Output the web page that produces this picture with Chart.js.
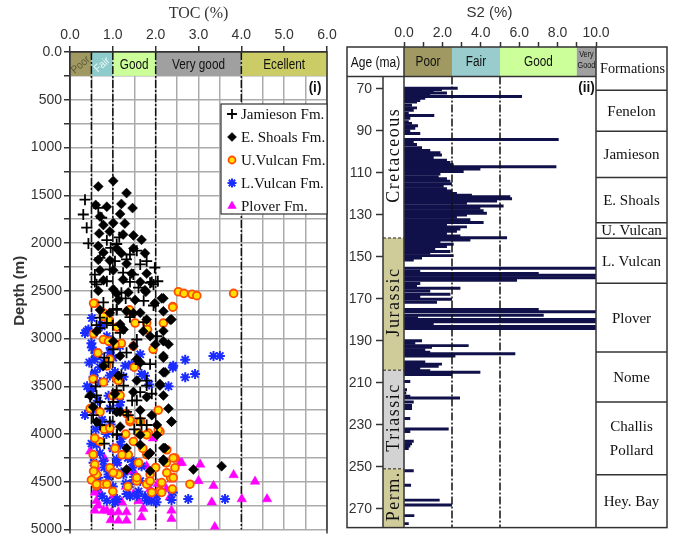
<!DOCTYPE html>
<html>
<head>
<meta charset="utf-8">
<script src="https://cdn.jsdelivr.net/npm/chart.js@4.4.1/dist/chart.umd.min.js"></script>
<style>
  body { margin: 0; background: #fff; }
  #wrap { position: relative; width: 674px; height: 540px; }
  #left { position: absolute; left: 0; top: 0; }
  #right { position: absolute; left: 340px; top: 0; }
</style>
</head>
<body>
<div id="wrap">
  <canvas id="left" width="340" height="540"></canvas>
  <canvas id="right" width="334" height="540"></canvas>
</div>
<script>
// ---- panel (i): TOC vs depth ----
const SERIES_NAMES = ['Jamieson Fm.', 'E. Shoals Fm.', 'U.Vulcan Fm.', 'L.Vulcan Fm.', 'Plover Fm.'];

// [TOC %, depth m]
const JAMIESON = [[0.35,1546],[0.31,1701],[0.39,1839],[0.43,2004],[0.66,1632],[0.74,1735],[0.86,1970],[1.09,2010],
  [0.70,2155],[1.05,2190],[1.32,2170],[1.56,2080],[1.64,2224],[1.79,2190],[1.98,2258],[0.93,2276],[0.58,2330],
  [0.62,2432],[0.86,2400],[1.24,2310],[1.48,2330],[1.60,2467],[1.87,2416],[1.95,2433],[1.72,2605],[1.95,2654],
  [0.78,2622],[1.09,2690],[1.40,2776],[1.72,2827],[1.15,1940],[1.40,2120],[0.95,2050],[1.20,2520],[0.70,2780],
  [1.30,2580],[2.05,2400],[0.62,2860],[1.00,2860],[0.70,2890],[1.17,2941],[1.56,3010],[2.03,2976],[1.01,3113],
  [1.32,3148],[1.64,3268],[0.80,3200],[1.79,3440],[1.09,3543],[1.64,3560],[1.91,3578],[0.70,3664],[0.93,3733],
  [0.54,3802],[1.32,3768],[1.64,3836],[0.70,3905],[0.93,3870],[1.79,3905],[1.20,3380],[0.60,3500],[1.45,3650],
  [1.10,4000],[0.80,4100],[1.50,3950],[0.58,2407],[1.40,2407],[1.91,2407],[1.09,2700],[0.86,2837],[1.87,3268],
  [1.79,3492],[1.25,3492],[0.62,3595],[0.90,3250],[0.47,3612],[1.01,3664],[1.56,3647],[1.36,3802],[1.67,3905],
  [1.09,4008]];
const E_SHOALS = [[1.01,1350],[0.66,1408],[1.32,1477],[1.20,1590],[0.60,1601],[0.86,1620],[1.46,1634],[1.17,1695],
  [0.70,1722],[1.01,1790],[0.78,1812],[1.28,1796],[0.68,1900],[0.93,1880],[1.24,1911],[1.48,1920],[1.67,1966],
  [0.66,2032],[1.09,2056],[1.48,2056],[0.78,2100],[1.20,2107],[1.75,2107],[0.66,2176],[0.93,2183],[1.32,2218],
  [0.70,2286],[1.01,2286],[1.44,2320],[1.79,2320],[0.78,2390],[1.24,2383],[1.64,2407],[0.66,2500],[1.01,2483],
  [1.36,2517],[1.77,2510],[2.18,2579],[1.98,2630],[1.52,2596],[1.13,2596],[0.70,2700],[0.93,2731],[1.32,2715],
  [1.64,2731],[2.18,2715],[2.37,2800],[1.79,2800],[1.17,2850],[2.18,2920],[0.62,2924],[1.71,2924],[2.18,3027],
  [2.30,3060],[1.01,3027],[1.48,3079],[1.17,3182],[2.18,3200],[0.78,3286],[1.64,3251],[2.18,3354],[1.13,3389],
  [1.56,3440],[2.10,3475],[0.47,3595],[1.05,3578],[1.48,3560],[1.79,3612],[2.18,3595],[2.30,3733],[0.54,3716],
  [1.09,3768],[1.64,3750],[1.91,3802],[2.37,3870],[2.03,3905],[0.62,3870],[1.17,3922],[1.64,4009],[2.03,4009],
  [1.64,4112],[1.87,4198],[2.18,4146],[2.18,4284],[1.32,4370],[1.87,4387],[2.88,4370],[3.54,4336],[1.75,2493],
  [2.14,2579],[2.34,2803],[2.18,3182],[2.22,3354],[1.87,2975],[1.48,2734],[1.09,2527],[1.25,2906],[1.99,3061],
  [2.10,3492],[1.56,3216],[2.37,3870],[1.83,4216],[2.22,4147],[2.18,4267],[1.32,4147],[1.17,3767]];
const U_VULCAN = [[2.53,2510],[2.66,2527],[2.85,2537],[2.96,2551],[3.82,2527],[2.40,2665],[2.18,2837],[0.58,2630],
  [0.78,2731],[1.36,2706],[1.79,2837],[0.90,2800],[1.10,2880],[0.55,2950],[1.94,3113],[2.06,3750],[2.10,3974],
  [1.60,3990],[1.83,3990],[2.45,4250],[2.45,4353],[2.25,4301],[2.35,4456],[2.39,4576],[2.10,4594],[2.80,4525],
  [1.79,4215],[0.58,4318],[0.62,4422],[0.62,4542],[0.54,4215],[0.70,3768],[0.47,3733],[0.78,3010],[0.93,3217],
  [1.09,3424],[1.32,3785],[1.40,3870],[1.48,4077],[1.13,4422],[1.56,4490],[1.79,4525],[1.91,4611],[0.93,4353],
  [0.78,4525],[1.24,4215],[1.87,4422],[1.64,3870],[1.17,3595],[0.54,3424],[0.86,3286],[1.20,3050],[1.50,3300],
  [0.65,3150],[1.00,3600],[0.80,3950],[1.30,4000],[1.05,4150],[0.70,4080],[1.60,4300],[1.35,4550],[1.00,4600],
  [0.50,4480],[2.00,4350],[1.70,4150],[0.55,2631],[0.78,2768],[1.39,2700],[1.52,2837],[1.81,2906],[2.40,2672],
  [1.13,3440],[0.90,3027],[1.05,3061],[1.48,3079],[0.78,3457],[0.58,4043],[0.55,4388],[0.62,4525],[0.86,4525],
  [1.36,4216],[1.40,3853],[1.64,3870],[2.06,3956],[2.26,4164],[2.41,4250],[2.26,4405],[2.41,4456],[2.14,4508],
  [2.14,4611],[1.01,4405],[1.21,4216],[1.56,4456],[0.93,3939],[1.79,4008],[1.87,4491]];
const L_VULCAN = [[0.35,2941],[0.51,2786],[0.43,2906],[0.74,2855],[2.40,3302],[2.69,3223],[2.92,3372],[2.69,3406],
  [2.30,3500],[3.35,3182],[3.50,3182],[2.03,4645],[2.40,4611],[2.76,4680],[3.62,4680],[0.50,3050],[0.60,3150],
  [0.45,3250],[0.70,3300],[0.55,3400],[0.80,3450],[0.50,3550],[0.65,3650],[0.90,3600],[0.55,3750],[0.75,3850],
  [0.60,3950],[0.85,4000],[0.50,4100],[0.70,4200],[1.00,4150],[0.55,4300],[0.80,4350],[1.10,4300],[1.35,4250],
  [0.60,4450],[0.90,4450],[1.20,4400],[1.50,4450],[0.65,4550],[1.00,4550],[1.30,4520],[1.60,4600],[0.75,4650],
  [1.10,4680],[1.40,4650],[1.75,4650],[1.90,4700],[0.95,3100],[1.05,3350],[1.25,3400],[1.15,3700],[0.95,3900],
  [1.20,4050],[0.40,3500],[0.35,3800],[1.45,4350],[1.85,4500],[0.51,3093],[0.58,3217],[0.93,3148],[1.48,3290],
  [1.75,3390],[1.85,3480],[0.39,2924],[0.66,3165],[0.74,2872],[0.86,2975],[0.78,3250],[0.58,3354],[1.01,3200],
  [1.17,3079],[1.29,3285],[1.44,3268],[1.67,3370],[1.64,3165],[0.70,3457],[0.47,3526],[0.93,3388],[2.41,3285],
  [0.70,3905],[0.62,4112],[0.78,4285],[0.90,4422],[1.09,4267],[1.25,4422],[1.48,4284],[1.67,4336],[1.64,4491],
  [1.32,4628],[0.86,4697],[1.05,4714],[1.79,4697],[2.02,4714],[2.37,4690],[0.66,4456],[1.17,4112],[0.93,3733],
  [1.17,3664],[1.56,4645],[1.40,4525]];
const PLOVER = [[0.47,4180],[1.94,4043],[2.61,4301],[3.04,4318],[3.82,4428],[4.32,4497],[3.35,4542],[3.00,4490],
  [2.37,4473],[2.25,4576],[4.01,4680],[4.60,4680],[3.31,4714],[3.38,4973],[2.37,4800],[1.71,4783],[1.32,4817],
  [1.13,4817],[0.86,4800],[0.62,4697],[0.70,4611],[1.01,4645],[1.48,4628],[1.87,4576],[2.33,4662],[0.54,4490],
  [0.93,4422],[1.20,4714],[1.79,4336],[0.66,4748],[1.10,4300],[0.80,4250],[1.50,4400],[0.60,4350],[1.30,4550],
  [0.95,4900],[1.60,4700],[2.05,4520],[0.58,4611],[0.58,4800],[0.78,4800],[0.97,4818],[1.13,4904],[1.32,4904],
  [1.67,4870],[2.37,4887],[2.57,4302],[1.21,4714],[1.87,4680],[1.01,4147],[1.36,4388]];
const SERIES_DATA = [JAMIESON, E_SHOALS, U_VULCAN, L_VULCAN, PLOVER];

const TOC_CLASS_NAMES = ['Poor', 'Fair', 'Good', 'Very good', 'Ecellent'];
const TOC_LIMITS = [0, 0.5, 1, 2, 4, 6];
const TOC_GRID_STEP = 0.5;
const DEPTH_GRID_STEP = 250;
const TOC_BAND_DEPTH = 250;

// ---- panel (ii): S2 vs age ----
const S2_AGE = [69.7,70.3,71.1,71.9,72.8,73.6,74.4,75.5,76.2,77.8,79.0,80.1,81.7,82.6,84.0,85.6,86.4,87.5,88.7,89.9,
  91.2,94.1,95.2,96.5,98.0,99.3,100.4,101.5,102.7,104.0,105.0,106.1,107.1,108.2,109.3,110.5,111.8,112.8,113.9,
  115.2,116.4,117.5,118.6,119.8,120.6,121.4,122.3,123.4,124.5,125.8,126.9,128.0,129.2,130.1,131.1,132.3,133.6,
  134.7,135.7,136.7,137.8,138.9,140.1,140.9,142.0,142.9,144.0,145.1,146.3,147.4,148.3,149.4,150.5,151.5,155.4,
  156.8,157.9,158.8,159.9,161.1,162.7,163.8,165.0,166.3,167.8,168.9,170.2,171.6,175.1,176.2,177.8,179.0,179.8,
  180.9,182.1,183.2,184.2,190.0,191.2,192.3,193.1,194.3,195.4,196.2,197.3,200.1,201.1,202.1,203.2,204.3,205.0,
  206.0,209.4,213.3,214.9,216.4,217.2,219.2,220.8,222.3,227.0,232.0,233.2,237.9,239.0,240.1,241.3,251.9,258.8,
  265.9,268.2,273.3,277.1];
const S2_VALUE = [2.78,1.96,1.53,2.22,1.35,6.13,1.09,0.83,0.66,0.40,0.66,0.49,0.23,1.56,0.31,0.23,0.40,0.71,0.57,0.31,
  0.83,8.04,0.49,0.66,0.92,1.35,1.88,1.96,1.53,2.22,2.40,2.57,7.92,3.96,3.09,1.88,1.79,2.22,2.40,
  2.48,2.05,2.22,2.48,2.74,3.52,5.52,5.61,4.83,3.26,5.17,3.96,4.13,4.30,3.26,2.74,3.44,4.13,
  2.22,3.26,2.92,2.74,2.22,2.92,5.35,3.44,1.88,2.57,2.22,1.61,2.40,1.35,2.57,0.92,0.49,10,
  0.83,7.0,10,10,5.87,0.83,0.66,2.92,1.35,2.40,0.83,2.48,1.70,7.0,10,7.26,0.71,10,
  10,1.53,10,10,0.92,0.57,3.35,1.44,1.09,1.35,5.78,2.66,1.09,1.96,1.79,0.83,1.35,3.96,
  2.48,0.31,0.14,0.10,0.31,2.90,0.49,0.40,0.40,0.31,2.31,0.31,0.49,0.40,0.31,0.23,0.49,0.35,
  1.84,2.48,0.52,0.23];
const S2_TICKS = [0,1,2,3,4,5,6,7,8,9,10];
const AGE_TICKS = [70,90,110,130,150,170,190,210,230,250,270];
const S2_CLASS_NAMES = ['Poor', 'Fair', 'Good', 'Very\nGood'];
const S2_LIMITS = [0, 2.5, 5, 9, 10];
const AGE_HEADER = 64;
const PERIOD_NAMES = ['Cretaceous', 'Jurassic', 'Triassic', 'Perm.'];
const PERIOD_LIMITS = [64, 141, 204, 251, 279];
const FORMATION_NAMES = ['Fenelon', 'Jamieson', 'E. Shoals', 'U. Vulcan', 'L. Vulcan', 'Plover', 'Nome', 'Challis\nPollard', 'Hey. Bay'];
const FORMATION_TOPS = [70.6, 90.2, 112.2, 133.7, 141.1, 162.6, 195.3, 219.2, 253.8, 279];

// ---- styles ----
const FONT_SANS = '"Liberation Sans", Arial, sans-serif';
const FONT_SERIF = '"Liberation Serif", "Times New Roman", serif';
const INK = '#333';
const GRID = '#ababab';
const SERIES_STYLE = [
  {pointStyle: 'cross', radius: 5.5, fill: '#000', border: '#000', width: 1.8},
  {pointStyle: 'rectRot', radius: 5, fill: '#000', border: '#000', width: 0.5},
  {pointStyle: 'circle', radius: 3.9, fill: '#ffe000', border: '#ff5000', width: 1.8},
  {pointStyle: 'star', radius: 5, fill: '#1a2cff', border: '#1a2cff', width: 2},
  {pointStyle: 'triangle', radius: 5.5, fill: '#ff00ff', border: '#ff00ff', width: 0.5}
];
const TOC_COLORS = ['#a09a62', '#8ecccc', '#ccff99', '#a0a0a0', '#cccc66'];
const S2_COLORS = ['#a09a62', '#99cccc', '#ccff99', '#a0a0a0'];
const PERIOD_COLORS = ['#ffffff', '#cfcc99', '#d3d3d3', '#cfcc99'];
const DASH_DOT = [8, 2, 2, 2];

Chart.defaults.color = INK;

function dashDot(ctx, x, y0, y1) {
  ctx.beginPath();
  ctx.moveTo(x, y0);
  ctx.lineTo(x, y1);
  ctx.stroke();
}

// condensed text: the reference uses a narrow face that is not installed
function narrowText(ctx, text, x, y, sx) {
  ctx.save();
  ctx.translate(x, y);
  ctx.scale(sx, 1);
  ctx.fillText(text, 0, 0);
  ctx.restore();
}

function steps(max, step) {
  const out = [];
  for (let k = 0; k * step <= max + 1e-9; k++) out.push({value: k * step});
  return out;
}

const leftDecor = {
  id: 'leftDecor',
  beforeDatasetsDraw(chart) {
    const {ctx, chartArea: a, scales: {x, y}} = chart;
    const yTop = y.getPixelForValue(0), yBot = y.getPixelForValue(TOC_BAND_DEPTH);
    ctx.save();
    TOC_CLASS_NAMES.forEach((name, i) => {
      const x0 = x.getPixelForValue(TOC_LIMITS[i]), x1 = x.getPixelForValue(TOC_LIMITS[i + 1]);
      ctx.fillStyle = TOC_COLORS[i];
      ctx.fillRect(x0, yTop, x1 - x0, yBot - yTop);
      ctx.textAlign = 'center';
      ctx.textBaseline = 'middle';
      if (i < 2) {
        ctx.save();
        ctx.translate((x0 + x1) / 2, (yTop + yBot) / 2 + 1);
        ctx.rotate(-0.72);
        ctx.font = '11px ' + FONT_SANS;
        ctx.fillStyle = i === 0 ? '#5e5a3a' : '#eef6f6';
        narrowText(ctx, name, 0, 0, 0.9);
        ctx.restore();
      } else {
        ctx.font = '14px ' + FONT_SANS;
        ctx.fillStyle = '#111';
        narrowText(ctx, name, (x0 + x1) / 2, (yTop + yBot) / 2 + 1, 0.84);
      }
    });
    ctx.strokeStyle = '#111';
    ctx.lineWidth = 1.5;
    ctx.setLineDash(DASH_DOT);
    TOC_LIMITS.slice(1, -1).forEach(v => dashDot(ctx, x.getPixelForValue(v), yTop, a.bottom));
    ctx.restore();
  },
  afterDraw(chart) {
    const {ctx, chartArea: a} = chart;
    ctx.save();
    ctx.strokeStyle = INK;
    ctx.lineWidth = 1.5;
    ctx.beginPath();
    ctx.moveTo(a.left, a.bottom + 4);
    ctx.lineTo(a.left, a.top);
    ctx.lineTo(a.right, a.top);
    ctx.lineTo(a.right, a.bottom + 4);
    ctx.stroke();

    // (i)
    ctx.font = 'bold 15px ' + FONT_SANS;
    ctx.fillStyle = '#111';
    ctx.textAlign = 'center';
    ctx.textBaseline = 'middle';
    narrowText(ctx, '(i)', a.right - 12, a.top + 36, 0.9);

    // legend box
    const lw = 106, lh = 110, lx = a.right - lw, ly = a.top + 52;
    ctx.fillStyle = '#fff';
    ctx.fillRect(lx, ly, lw, lh);
    ctx.lineWidth = 1.2;
    ctx.strokeRect(lx, ly, lw, lh);
    ctx.font = '15px ' + FONT_SERIF;
    ctx.textAlign = 'left';
    SERIES_NAMES.forEach((name, i) => {
      const st = SERIES_STYLE[i];
      const cy = ly + 10 + i * 23;
      ctx.fillStyle = st.fill;
      ctx.strokeStyle = st.border;
      ctx.lineWidth = st.width;
      Chart.helpers.drawPoint(ctx, {pointStyle: st.pointStyle, radius: st.radius * 0.9, borderWidth: st.width, rotation: 0}, lx + 11, cy);
      ctx.fillStyle = '#111';
      ctx.fillText(name, lx + 20, cy + 1);
    });
    ctx.restore();
  }
};

new Chart(document.getElementById('left'), {
  type: 'scatter',
  data: {
    datasets: SERIES_DATA.map((d, i) => ({
      label: SERIES_NAMES[i],
      data: d.map(p => ({x: p[0], y: p[1]})),
      pointStyle: SERIES_STYLE[i].pointStyle,
      pointRadius: SERIES_STYLE[i].radius,
      pointBackgroundColor: SERIES_STYLE[i].fill,
      pointBorderColor: SERIES_STYLE[i].border,
      pointBorderWidth: SERIES_STYLE[i].width
    }))
  },
  options: {
    responsive: false,
    animation: false,
    events: [],
    layout: {padding: {left: 0, right: 13, top: 0, bottom: 4}},
    plugins: {legend: {display: false}, tooltip: {enabled: false}},
    scales: {
      x: {
        type: 'linear', position: 'top', min: 0, max: 6,
        afterBuildTicks: s => { s.ticks = steps(6, TOC_GRID_STEP); },
        afterFit: s => { s.height = 52; },
        ticks: {
          autoSkip: false, maxRotation: 0, padding: 2,
          font: {family: FONT_SANS, size: 14}, color: INK,
          callback: v => Number.isInteger(v) ? v.toFixed(1) : ''
        },
        grid: {
          color: GRID, lineWidth: 1.5, tickLength: 6, tickWidth: 1.5,
          tickColor: c => Number.isInteger(c.tick && c.tick.value) ? INK : 'rgba(0,0,0,0)'
        },
        border: {display: true, color: INK, width: 1.5},
        title: {display: true, text: 'TOC (%)', font: {family: FONT_SERIF, size: 16}, color: INK, padding: {top: 4, bottom: 0}}
      },
      y: {
        type: 'linear', reverse: true, min: 0, max: 5000,
        afterBuildTicks: s => { s.ticks = steps(5000, DEPTH_GRID_STEP); },
        afterFit: s => { s.width = 70; },
        ticks: {
          autoSkip: false, padding: 2,
          font: {family: FONT_SANS, size: 14}, color: INK,
          callback: v => v === 0 ? '0.0' : (v % 500 === 0 ? String(v) : '')
        },
        grid: {color: GRID, lineWidth: 1.5, tickLength: 6, tickWidth: 1.5, tickColor: INK},
        border: {display: true, color: INK, width: 1.5},
        title: {display: true, text: 'Depth (m)', font: {family: FONT_SANS, size: 15, weight: 'bold'}, color: INK, padding: {top: 11, bottom: 0}}
      }
    }
  },
  plugins: [leftDecor]
});

const rightDecor = {
  id: 'rightDecor',
  afterDatasetsDraw(chart) {
    const {ctx, chartArea: a, scales: {x, y}} = chart;
    const top = a.top, bottom = a.bottom;
    const headBot = y.getPixelForValue(AGE_HEADER);
    const x0 = x.getPixelForValue(0);
    const frameL = a.left - 36, frameR = a.right + 71;
    ctx.save();
    ctx.textAlign = 'center';
    ctx.textBaseline = 'middle';

    // header classes
    S2_CLASS_NAMES.forEach((name, i) => {
      const xa = x.getPixelForValue(S2_LIMITS[i]), xb = x.getPixelForValue(S2_LIMITS[i + 1]);
      ctx.fillStyle = S2_COLORS[i];
      ctx.fillRect(xa, top, xb - xa, headBot - top);
      ctx.fillStyle = '#111';
      const lines = name.split('\n');
      if (lines.length > 1) {
        ctx.font = '9px ' + FONT_SANS;
        lines.forEach((t, k) => narrowText(ctx, t, (xa + xb) / 2, top + 8 + k * 11, 0.8));
      } else {
        ctx.font = '14px ' + FONT_SANS;
        narrowText(ctx, name, (xa + xb) / 2, (top + headBot) / 2, 0.84);
      }
    });

    // period column
    PERIOD_NAMES.forEach((name, i) => {
      const ya = y.getPixelForValue(PERIOD_LIMITS[i]), yb = y.getPixelForValue(PERIOD_LIMITS[i + 1]);
      ctx.fillStyle = PERIOD_COLORS[i];
      ctx.fillRect(a.left, ya, x0 - a.left, yb - ya);
      ctx.save();
      ctx.translate((a.left + x0) / 2 + 1, (ya + yb) / 2 - 2);
      ctx.rotate(-Math.PI / 2);
      ctx.font = '18px ' + FONT_SERIF;
      ctx.letterSpacing = '1.5px';
      ctx.fillStyle = '#111';
      ctx.fillText(name, 0, 0);
      ctx.restore();
    });
    ctx.strokeStyle = '#222';
    ctx.lineWidth = 1;
    ctx.setLineDash([3, 2]);
    PERIOD_LIMITS.slice(1, -1).forEach(v => {
      const py = y.getPixelForValue(v);
      ctx.beginPath();
      ctx.moveTo(a.left, py);
      ctx.lineTo(x0, py);
      ctx.stroke();
    });

    // class boundaries
    ctx.strokeStyle = '#111';
    ctx.lineWidth = 1.5;
    ctx.setLineDash(DASH_DOT);
    [S2_LIMITS[1], S2_LIMITS[2]].forEach(v => dashDot(ctx, x.getPixelForValue(v), headBot, bottom));
    ctx.setLineDash([]);

    // formations column
    ctx.fillStyle = '#fff';
    ctx.fillRect(a.right, top, frameR - a.right, bottom - top);
    ctx.strokeStyle = INK;
    ctx.lineWidth = 1.5;
    ctx.fillStyle = '#111';
    ctx.font = '15px ' + FONT_SERIF;
    const cx = (a.right + frameR) / 2;
    narrowText(ctx, 'Formations', cx + 1, (top + y.getPixelForValue(FORMATION_TOPS[0])) / 2, 0.95);
    FORMATION_NAMES.forEach((name, i) => {
      const ya = y.getPixelForValue(FORMATION_TOPS[i]), yb = y.getPixelForValue(FORMATION_TOPS[i + 1]);
      ctx.beginPath();
      ctx.moveTo(a.right, ya);
      ctx.lineTo(frameR, ya);
      ctx.stroke();
      const lines = name.split('\n');
      lines.forEach((t, k) => ctx.fillText(t, cx, (ya + yb) / 2 + 1 + (k - (lines.length - 1) / 2) * 24));
    });

    // frame
    ctx.strokeRect(frameL, top, frameR - frameL, bottom - top);
    ctx.beginPath();
    ctx.moveTo(a.left, headBot); ctx.lineTo(a.left, bottom);
    ctx.moveTo(x0, top); ctx.lineTo(x0, bottom);
    ctx.moveTo(a.right, top); ctx.lineTo(a.right, bottom);
    ctx.moveTo(frameL, headBot); ctx.lineTo(a.right, headBot);
    ctx.stroke();

    // header text
    ctx.font = '14px ' + FONT_SANS;
    narrowText(ctx, 'Age (ma)', (frameL + x0) / 2, (top + headBot) / 2 + 1, 0.86);
    ctx.font = 'bold 15px ' + FONT_SANS;
    narrowText(ctx, '(ii)', x.getPixelForValue(9.5), headBot + 11, 0.9);
    ctx.restore();
  }
};

new Chart(document.getElementById('right'), {
  type: 'bar',
  data: {
    datasets: [{
      label: 'S2',
      data: S2_AGE.map((a, i) => ({x: S2_VALUE[i], y: a})),
      backgroundColor: '#10104a',
      borderWidth: 0,
      barThickness: 2.3
    }]
  },
  options: {
    indexAxis: 'y',
    responsive: false,
    animation: false,
    events: [],
    layout: {padding: {left: 0, right: 78, top: 0, bottom: 3}},
    plugins: {legend: {display: false}, tooltip: {enabled: false}},
    scales: {
      x: {
        type: 'linear', position: 'top', min: -1.09375, max: 10,
        afterBuildTicks: s => { s.ticks = S2_TICKS.map(v => ({value: v})); },
        afterFit: s => { s.height = 47; },
        ticks: {
          autoSkip: false, maxRotation: 0, padding: 0,
          font: {family: FONT_SANS, size: 14}, color: INK,
          callback: v => v % 2 === 0 ? v.toFixed(1) : ''
        },
        grid: {drawOnChartArea: false, tickLength: 5, tickWidth: 1.5, tickColor: INK},
        border: {display: false},
        title: {display: true, text: 'S2 (%)', font: {family: FONT_SANS, size: 15}, color: INK, padding: {top: 4, bottom: 0}}
      },
      y: {
        type: 'linear', reverse: true, min: 50, max: 279, offset: false,
        afterBuildTicks: s => { s.ticks = AGE_TICKS.map(v => ({value: v})); },
        afterFit: s => { s.width = 43; },
        ticks: {autoSkip: false, padding: 4, font: {family: FONT_SANS, size: 14}, color: INK},
        grid: {offset: false, drawOnChartArea: false, tickLength: 7, tickWidth: 1.5, tickColor: INK},
        border: {display: false}
      }
    }
  },
  plugins: [rightDecor]
});
</script>
</body>
</html>
